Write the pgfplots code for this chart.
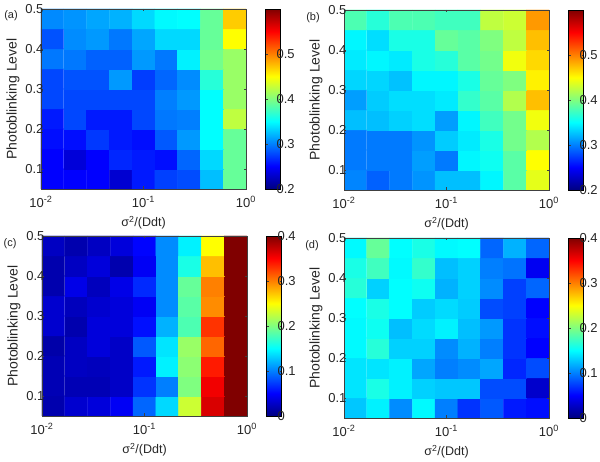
\documentclass[border=0pt]{standalone}
\usepackage{pgfplots}
\usepackage{pgfplotstable}
\usepackage{fontspec}
\setmainfont{Liberation Sans}
\pgfplotsset{compat=1.18}
\pgfplotstableread[row sep=\\]{
x y c \\
0.0129 0.075 0.25 \\ 0.0215 0.075 0.25 \\ 0.0359 0.075 0.25 \\ 0.0599 0.075 0.232 \\ 0.1 0.075 0.26 \\ 0.1668 0.075 0.275 \\ 0.2783 0.075 0.28 \\ 0.4642 0.075 0.325 \\ 0.7743 0.075 0.39 \\
0.0129 0.125 0.25 \\ 0.0215 0.125 0.235 \\ 0.0359 0.125 0.25 \\ 0.0599 0.125 0.265 \\ 0.1 0.125 0.26 \\ 0.1668 0.125 0.255 \\ 0.2783 0.125 0.29 \\ 0.4642 0.125 0.335 \\ 0.7743 0.125 0.39 \\
0.0129 0.175 0.255 \\ 0.0215 0.175 0.255 \\ 0.0359 0.175 0.272 \\ 0.0599 0.175 0.26 \\ 0.1 0.175 0.255 \\ 0.1668 0.175 0.285 \\ 0.2783 0.175 0.31 \\ 0.4642 0.175 0.35 \\ 0.7743 0.175 0.39 \\
0.0129 0.225 0.26 \\ 0.0215 0.225 0.278 \\ 0.0359 0.225 0.26 \\ 0.0599 0.225 0.26 \\ 0.1 0.225 0.278 \\ 0.1668 0.225 0.297 \\ 0.2783 0.225 0.30 \\ 0.4642 0.225 0.35 \\ 0.7743 0.225 0.425 \\
0.0129 0.275 0.278 \\ 0.0215 0.275 0.278 \\ 0.0359 0.275 0.278 \\ 0.0599 0.275 0.278 \\ 0.1 0.275 0.278 \\ 0.1668 0.275 0.30 \\ 0.2783 0.275 0.31 \\ 0.4642 0.275 0.35 \\ 0.7743 0.275 0.41 \\
0.0129 0.325 0.278 \\ 0.0215 0.325 0.282 \\ 0.0359 0.325 0.282 \\ 0.0599 0.325 0.31 \\ 0.1 0.325 0.274 \\ 0.1668 0.325 0.29 \\ 0.2783 0.325 0.305 \\ 0.4642 0.325 0.365 \\ 0.7743 0.325 0.41 \\
0.0129 0.375 0.297 \\ 0.0215 0.375 0.297 \\ 0.0359 0.375 0.288 \\ 0.0599 0.375 0.288 \\ 0.1 0.375 0.31 \\ 0.1668 0.375 0.297 \\ 0.2783 0.375 0.345 \\ 0.4642 0.375 0.395 \\ 0.7743 0.375 0.41 \\
0.0129 0.425 0.282 \\ 0.0215 0.425 0.305 \\ 0.0359 0.425 0.31 \\ 0.0599 0.425 0.297 \\ 0.1 0.425 0.315 \\ 0.1668 0.425 0.335 \\ 0.2783 0.425 0.335 \\ 0.4642 0.425 0.39 \\ 0.7743 0.425 0.45 \\
0.0129 0.475 0.304 \\ 0.0215 0.475 0.308 \\ 0.0359 0.475 0.315 \\ 0.0599 0.475 0.32 \\ 0.1 0.475 0.335 \\ 0.1668 0.475 0.348 \\ 0.2783 0.475 0.35 \\ 0.4642 0.475 0.39 \\ 0.7743 0.475 0.47 \\
}\tableA
\pgfplotstableread[row sep=\\]{
x y c \\
0.0129 0.075 0.302 \\ 0.0215 0.075 0.288 \\ 0.0359 0.075 0.298 \\ 0.0599 0.075 0.308 \\ 0.1 0.075 0.325 \\ 0.1668 0.075 0.325 \\ 0.2783 0.075 0.347 \\ 0.4642 0.075 0.385 \\ 0.7743 0.075 0.44 \\
0.0129 0.125 0.298 \\ 0.0215 0.125 0.298 \\ 0.0359 0.125 0.298 \\ 0.0599 0.125 0.312 \\ 0.1 0.125 0.298 \\ 0.1668 0.125 0.347 \\ 0.2783 0.125 0.355 \\ 0.4642 0.125 0.385 \\ 0.7743 0.125 0.45 \\
0.0129 0.175 0.298 \\ 0.0215 0.175 0.298 \\ 0.0359 0.175 0.298 \\ 0.0599 0.175 0.308 \\ 0.1 0.175 0.33 \\ 0.1668 0.175 0.342 \\ 0.2783 0.175 0.36 \\ 0.4642 0.175 0.395 \\ 0.7743 0.175 0.42 \\
0.0129 0.225 0.325 \\ 0.0215 0.225 0.325 \\ 0.0359 0.225 0.332 \\ 0.0599 0.225 0.337 \\ 0.1 0.225 0.312 \\ 0.1668 0.225 0.347 \\ 0.2783 0.225 0.375 \\ 0.4642 0.225 0.395 \\ 0.7743 0.225 0.445 \\
0.0129 0.275 0.312 \\ 0.0215 0.275 0.33 \\ 0.0359 0.275 0.337 \\ 0.0599 0.275 0.337 \\ 0.1 0.275 0.342 \\ 0.1668 0.275 0.37 \\ 0.2783 0.275 0.385 \\ 0.4642 0.275 0.42 \\ 0.7743 0.275 0.475 \\
0.0129 0.325 0.334 \\ 0.0215 0.325 0.334 \\ 0.0359 0.325 0.326 \\ 0.0599 0.325 0.347 \\ 0.1 0.325 0.347 \\ 0.1668 0.325 0.36 \\ 0.2783 0.325 0.39 \\ 0.4642 0.325 0.40 \\ 0.7743 0.325 0.455 \\
0.0129 0.375 0.342 \\ 0.0215 0.375 0.347 \\ 0.0359 0.375 0.342 \\ 0.0599 0.375 0.36 \\ 0.1 0.375 0.365 \\ 0.1668 0.375 0.385 \\ 0.2783 0.375 0.395 \\ 0.4642 0.375 0.445 \\ 0.7743 0.375 0.465 \\
0.0129 0.425 0.347 \\ 0.0215 0.425 0.337 \\ 0.0359 0.425 0.36 \\ 0.0599 0.425 0.36 \\ 0.1 0.425 0.39 \\ 0.1668 0.425 0.385 \\ 0.2783 0.425 0.40 \\ 0.4642 0.425 0.425 \\ 0.7743 0.425 0.475 \\
0.0129 0.475 0.38 \\ 0.0215 0.475 0.365 \\ 0.0359 0.475 0.38 \\ 0.0599 0.475 0.38 \\ 0.1 0.475 0.375 \\ 0.1668 0.475 0.375 \\ 0.2783 0.475 0.425 \\ 0.4642 0.475 0.43 \\ 0.7743 0.475 0.49 \\
}\tableB
\pgfplotstableread[row sep=\\]{
x y c \\
0.0129 0.075 0.018 \\ 0.0215 0.075 0.031 \\ 0.0359 0.075 0.036 \\ 0.0599 0.075 0.046 \\ 0.1 0.075 0.09 \\ 0.1668 0.075 0.135 \\ 0.2783 0.075 0.23 \\ 0.4642 0.075 0.365 \\ 0.7743 0.075 0.4 \\
0.0129 0.125 0.021 \\ 0.0215 0.125 0.021 \\ 0.0359 0.125 0.021 \\ 0.0599 0.125 0.028 \\ 0.1 0.125 0.07 \\ 0.1668 0.125 0.10 \\ 0.2783 0.125 0.20 \\ 0.4642 0.125 0.355 \\ 0.7743 0.125 0.4 \\
0.0129 0.175 0.021 \\ 0.0215 0.175 0.026 \\ 0.0359 0.175 0.024 \\ 0.0599 0.175 0.028 \\ 0.1 0.175 0.06 \\ 0.1668 0.175 0.145 \\ 0.2783 0.175 0.205 \\ 0.4642 0.175 0.34 \\ 0.7743 0.175 0.4 \\
0.0129 0.225 0.016 \\ 0.0215 0.225 0.026 \\ 0.0359 0.225 0.036 \\ 0.0599 0.225 0.028 \\ 0.1 0.225 0.085 \\ 0.1668 0.225 0.14 \\ 0.2783 0.225 0.21 \\ 0.4642 0.225 0.31 \\ 0.7743 0.225 0.4 \\
0.0129 0.275 0.031 \\ 0.0215 0.275 0.018 \\ 0.0359 0.275 0.036 \\ 0.0599 0.275 0.036 \\ 0.1 0.275 0.056 \\ 0.1668 0.275 0.12 \\ 0.2783 0.275 0.18 \\ 0.4642 0.275 0.33 \\ 0.7743 0.275 0.4 \\
0.0129 0.325 0.031 \\ 0.0215 0.325 0.024 \\ 0.0359 0.325 0.031 \\ 0.0599 0.325 0.036 \\ 0.1 0.325 0.046 \\ 0.1668 0.325 0.105 \\ 0.2783 0.325 0.185 \\ 0.4642 0.325 0.295 \\ 0.7743 0.325 0.4 \\
0.0129 0.375 0.018 \\ 0.0215 0.375 0.041 \\ 0.0359 0.375 0.024 \\ 0.0599 0.375 0.041 \\ 0.1 0.375 0.066 \\ 0.1668 0.375 0.105 \\ 0.2783 0.375 0.19 \\ 0.4642 0.375 0.30 \\ 0.7743 0.375 0.4 \\
0.0129 0.425 0.018 \\ 0.0215 0.425 0.026 \\ 0.0359 0.425 0.036 \\ 0.0599 0.425 0.018 \\ 0.1 0.425 0.046 \\ 0.1668 0.425 0.105 \\ 0.2783 0.425 0.16 \\ 0.4642 0.425 0.275 \\ 0.7743 0.425 0.4 \\
0.0129 0.475 0.026 \\ 0.0215 0.475 0.018 \\ 0.0359 0.475 0.026 \\ 0.0599 0.475 0.036 \\ 0.1 0.475 0.051 \\ 0.1668 0.475 0.105 \\ 0.2783 0.475 0.145 \\ 0.4642 0.475 0.25 \\ 0.7743 0.475 0.4 \\
}\tableC
\pgfplotstableread[row sep=\\]{
x y c \\
0.0129 0.075 0.128 \\ 0.0215 0.075 0.145 \\ 0.0359 0.075 0.105 \\ 0.0599 0.075 0.148 \\ 0.1 0.075 0.10 \\ 0.1668 0.075 0.07 \\ 0.2783 0.075 0.085 \\ 0.4642 0.075 0.06 \\ 0.7743 0.075 0.055 \\
0.0129 0.125 0.14 \\ 0.0215 0.125 0.16 \\ 0.0359 0.125 0.145 \\ 0.0599 0.125 0.132 \\ 0.1 0.125 0.128 \\ 0.1668 0.125 0.128 \\ 0.2783 0.125 0.08 \\ 0.4642 0.125 0.08 \\ 0.7743 0.125 0.03 \\
0.0129 0.175 0.14 \\ 0.0215 0.175 0.14 \\ 0.0359 0.175 0.145 \\ 0.0599 0.175 0.115 \\ 0.1 0.175 0.10 \\ 0.1668 0.175 0.105 \\ 0.2783 0.175 0.115 \\ 0.4642 0.175 0.065 \\ 0.7743 0.175 0.08 \\
0.0129 0.225 0.148 \\ 0.0215 0.225 0.165 \\ 0.0359 0.225 0.132 \\ 0.0599 0.225 0.132 \\ 0.1 0.225 0.105 \\ 0.1668 0.225 0.12 \\ 0.2783 0.225 0.10 \\ 0.4642 0.225 0.07 \\ 0.7743 0.225 0.05 \\
0.0129 0.275 0.148 \\ 0.0215 0.275 0.155 \\ 0.0359 0.275 0.125 \\ 0.0599 0.275 0.136 \\ 0.1 0.275 0.145 \\ 0.1668 0.275 0.125 \\ 0.2783 0.275 0.11 \\ 0.4642 0.275 0.07 \\ 0.7743 0.275 0.055 \\
0.0129 0.325 0.15 \\ 0.0215 0.325 0.16 \\ 0.0359 0.325 0.15 \\ 0.0599 0.325 0.13 \\ 0.1 0.325 0.136 \\ 0.1668 0.325 0.13 \\ 0.2783 0.325 0.08 \\ 0.4642 0.325 0.075 \\ 0.7743 0.325 0.05 \\
0.0129 0.375 0.165 \\ 0.0215 0.375 0.132 \\ 0.0359 0.375 0.15 \\ 0.0599 0.375 0.155 \\ 0.1 0.375 0.12 \\ 0.1668 0.375 0.132 \\ 0.2783 0.375 0.105 \\ 0.4642 0.375 0.075 \\ 0.7743 0.375 0.09 \\
0.0129 0.425 0.16 \\ 0.0215 0.425 0.175 \\ 0.0359 0.425 0.148 \\ 0.0599 0.425 0.17 \\ 0.1 0.425 0.125 \\ 0.1668 0.425 0.132 \\ 0.2783 0.425 0.10 \\ 0.4642 0.425 0.095 \\ 0.7743 0.425 0.045 \\
0.0129 0.475 0.148 \\ 0.0215 0.475 0.19 \\ 0.0359 0.475 0.15 \\ 0.0599 0.475 0.16 \\ 0.1 0.475 0.148 \\ 0.1668 0.475 0.15 \\ 0.2783 0.475 0.09 \\ 0.4642 0.475 0.12 \\ 0.7743 0.475 0.09 \\
}\tableD
\newcommand{\panel}[7]{%
\begin{axis}[
  at={(#1pt,#2pt)}, anchor=south west,
  scale only axis, width=205pt, height=180pt,
  xmode=log, log basis x=10,
  xmin=0.01, xmax=1, ymin=0.05, ymax=0.5,
  xtick={0.01,0.1,1},
  xticklabels={10\textsuperscript{-2},10\textsuperscript{-1},10\textsuperscript{0}},
  ytick={0.1,0.2,0.3,0.4,0.5},
  yticklabels={0.1,0.2,0.3,0.4,0.5},
  tick align=inside, major tick length=2.5pt, minor tick length=1.5pt,
  axis on top, axis line style={line width=0.5pt, black!75},
  tick style={line width=0.4pt, black!75},
  tick label style={font=\fontsize{13}{15}\selectfont, text=black!85},
  yticklabel style={xshift=6pt},
  xlabel={σ\textsuperscript{2}/(Ddt)}, ylabel={Photoblinking Level},
  xlabel style={font=\fontsize{12.5}{14}\selectfont, text=black!85, yshift=-2pt},
  ylabel style={font=\fontsize{14}{16}\selectfont, text=black!85, yshift=-1pt},
  xticklabel style={yshift=-4pt},
  colormap/jet, point meta min=#4, point meta max=#5,
  colorbar,
  colorbar style={
    at={(parent axis.north east)}, anchor=north west, xshift=11pt,
    width=15pt, height=180pt,
    ytick={#6}, yticklabels={#7},
    ytick align=inside, major tick length=2pt,
    yticklabel style={xshift=-7.5pt},
    yticklabel pos=right,
  },
]
\addplot[matrix plot*, mesh/cols=9, point meta=explicit, shader=flat corner] table[x=x, y=y, meta=c] {#3};
\end{axis}
}
\begin{document}
\begin{tikzpicture}[x=1pt,y=1pt]
\path[use as bounding box] (0,0) rectangle (600,462);
\panel{41}{273}{\tableA}{0.2}{0.6}{0.2,0.3,0.4,0.5}{0.2,0.3,0.4,0.5}
\panel{344}{272}{\tableB}{0.2}{0.6}{0.2,0.3,0.4,0.5}{0.2,0.3,0.4,0.5}
\panel{42}{46}{\tableC}{0}{0.4}{0,0.1,0.2,0.3,0.4}{0,0.1,0.2,0.3,0.4}
\panel{344}{44}{\tableD}{0}{0.4}{0,0.1,0.2,0.3,0.4}{0,0.1,0.2,0.3,0.4}
\node[font=\fontsize{11}{13}\selectfont, text=black!85] at (11,446) {(a)};
\node[font=\fontsize{11}{13}\selectfont, text=black!85] at (313,444) {(b)};
\node[font=\fontsize{11}{13}\selectfont, text=black!85] at (10,218) {(c)};
\node[font=\fontsize{11}{13}\selectfont, text=black!85] at (312,216) {(d)};
\end{tikzpicture}
\end{document}
